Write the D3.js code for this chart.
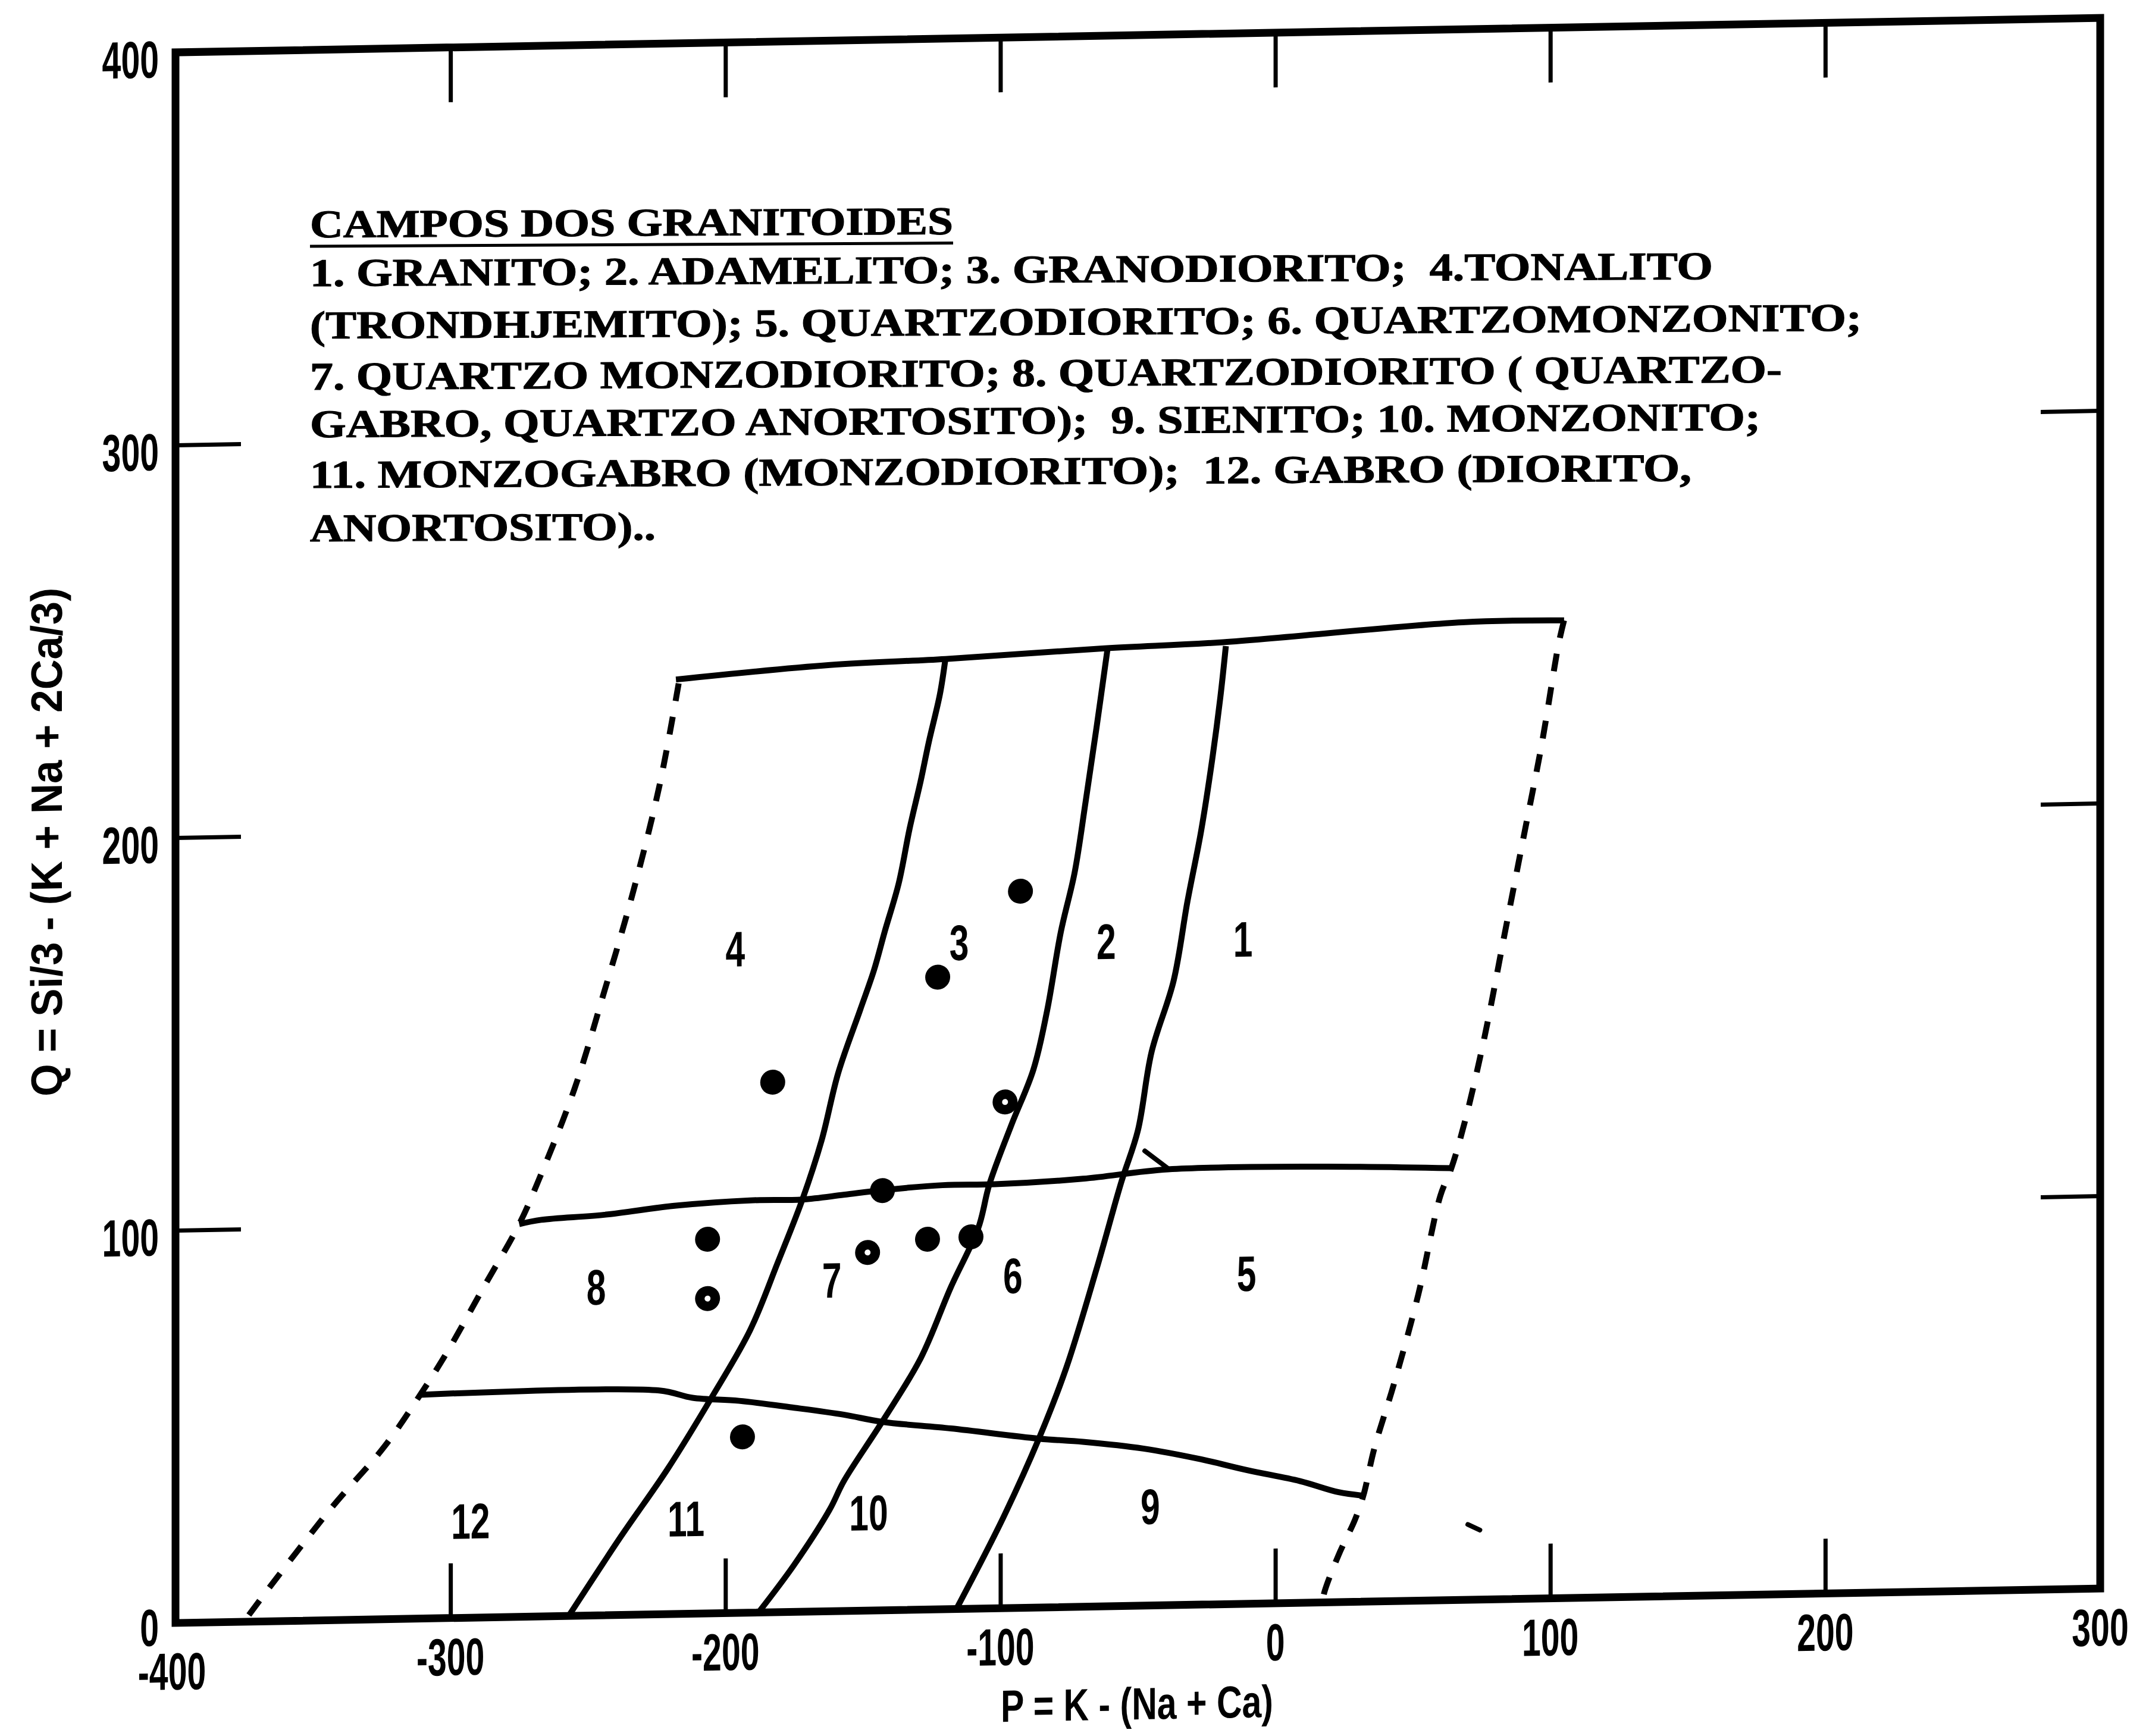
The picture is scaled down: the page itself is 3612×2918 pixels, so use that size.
<!DOCTYPE html>
<html>
<head>
<meta charset="utf-8">
<script src="https://cdn.jsdelivr.net/npm/d3@7"></script>
<style>
  html, body { margin: 0; padding: 0; background: #fff; }
  svg { display: block; }
</style>
</head>
<body>
<svg id="chart" width="3612" height="2918"></svg>
<script>
// ---------- data ----------
// inner tick marks
const xTicks = [-300, -200, -100, 0, 100, 200];
const yTicks = [100, 200, 300];
// tick labels
const xTickValues = [-400, -300, -200, -100, 0, 100, 200, 300];
const xTickLabels = ["-400", "-300", "-200", "-100", "0", "100", "200", "300"];
const yTickValues = [0, 100, 200, 300, 400];
const yTickLabels = ["0", "100", "200", "300", "400"];

// field boundaries, as [P, Q] pairs
const topBoundary = [[-218, 238], [-162, 241], [-120, 242], [-62, 244], [-19, 245], [68, 249], [105, 249]];
const leftBoundary = [[-217, 237], [-224, 211], [-234, 183], [-244, 159], [-255, 134], [-268, 111], [-275, 100],
  [-288, 84], [-301, 68], [-311, 57], [-324, 44], [-344, 28], [-373, 2], [-375, 0]];
const rightBoundary = [[105, 249], [103, 243], [97, 218], [90, 193], [83, 168], [76, 143], [69, 122], [64, 110],
  [60, 103], [52, 78], [43, 55], [36, 39], [32, 27], [29, 21], [23, 12], [18, 3], [17, 0]];
const upperDivide = [[-275, 100], [-267, 101], [-244, 102], [-218, 104], [-191, 105], [-172, 105], [-157, 106],
  [-143, 107], [-121, 108], [-102, 108], [-70, 109], [-39, 111], [16, 111], [64, 110]];
const lowerDivide = [[-311, 57], [-224, 57], [-212, 55], [-195, 54], [-175, 52], [-157, 50], [-143, 48],
  [-118, 46], [-86, 43], [-70, 42], [-48, 40], [-27, 37], [-10, 34], [9, 31], [23, 28], [32, 27]];
const curveA = [[-257, 0], [-238, 20], [-221, 37], [-205, 55], [-191, 72], [-181, 89], [-172, 105], [-165, 120],
  [-159, 137], [-151, 153], [-146, 163], [-142, 173], [-137, 185], [-133, 199], [-129, 211], [-126, 221], [-122, 233], [-120, 242]];
const curveB = [[-188, 0], [-175, 12], [-162, 26], [-157, 33], [-143, 48], [-129, 64], [-118, 82], [-108, 97],
  [-104, 108], [-96, 123], [-88, 137], [-83, 152], [-78, 172], [-73, 187], [-69, 205], [-65, 224], [-61, 244]];
const curveC = [[-116, 0], [-99, 23], [-86, 43], [-76, 61], [-65, 86], [-56, 108], [-50, 121], [-45, 141],
  [-37, 159], [-32, 179], [-27, 197], [-23, 215], [-20, 231], [-18, 244]];
// small pen strokes
const penStrokes = [[[-47.5, 115.8], [-38.8, 111.1]], [[70, 19.2], [74.4, 17.7]]];

// samples
const sampleP = [-182.8, -92.7, -122.8, -98.3, -142.9, -148.3, -126.5, -110.7, -206.5, -206.5, -193.8];
const sampleQ = [135.0, 182.5, 161.0, 128.9, 106.9, 91.2, 94.3, 94.7, 95.3, 80.2, 44.8];
const sampleCentred = [false, false, false, true, false, true, false, false, false, true, false];

// field numbers
const fieldNames = ["1", "2", "3", "4", "5", "6", "7", "8", "9", "10", "11", "12"];
const fieldP = [-11.8, -61.5, -115, -196.4, -10.5, -95.5, -161.3, -247, -45.5, -147.9, -214.3, -292.7];
const fieldQ = [169.4, 169.4, 169.8, 169.2, 84.2, 84.7, 84.4, 83.7, 25.3, 25.0, 24.3, 24.7];

// legend
const legendTitle = "CAMPOS DOS GRANITOIDES";
const legendLines = [
  "1. GRANITO; 2. ADAMELITO; 3. GRANODIORITO;  4.TONALITO",
  "(TRONDHJEMITO); 5. QUARTZODIORITO; 6. QUARTZOMONZONITO;",
  "7. QUARTZO MONZODIORITO; 8. QUARTZODIORITO ( QUARTZO-",
  "GABRO, QUARTZO ANORTOSITO);  9. SIENITO; 10. MONZONITO;",
  "11. MONZOGABRO (MONZODIORITO);  12. GABRO (DIORITO,",
  "ANORTOSITO).."
];

const xTitle = "P = K - (Na + Ca)";
const yTitle = "Q = Si/3 - (K + Na + 2Ca/3)";

// ---------- layout ----------
const W = 3612, H = 2918;
const sansNarrow = "'Liberation Sans', Arial, sans-serif";
const serif = "'Liberation Serif', 'Times New Roman', serif";
const legendX = 521;
const legendTitleBase = 403;
const legendBases = [485, 573, 659, 739, 824, 914];
const legendTitleWidth = 1081;
const legendWidths = [2358, 2608, 2474, 2438, 2322, 581];

const svg = d3.select("#chart");
svg.append("rect").attr("width", W).attr("height", H).attr("fill", "#fff");

const x = d3.scaleLinear().domain([-400, 300]).range([295, 3530]);
const y = d3.scaleLinear().domain([0, 400]).range([2728, 88]);

// the whole sheet leans slightly upward to the right
const deg = r => r * 180 / Math.PI;
const lean = -deg(Math.atan(0.0179));
const plot = svg.append("g")
  .attr("transform", `translate(${x(-400)},${y(0)}) skewY(${lean}) translate(${-x(-400)},${-y(0)})`);

// frame
plot.append("rect")
  .attr("x", x(-400)).attr("y", y(400))
  .attr("width", x(300) - x(-400)).attr("height", y(0) - y(400))
  .attr("fill", "none").attr("stroke", "#000").attr("stroke-width", 13);

// inner ticks on all four sides
function styleAxis(g) {
  g.select(".domain").remove();
  g.selectAll("line").attr("stroke", "#000").attr("stroke-width", 7);
}
plot.append("g").attr("transform", `translate(0,${y(0)})`)
  .call(d3.axisBottom(x).tickValues(xTicks).tickSize(-92).tickSizeOuter(0).tickFormat(""))
  .call(styleAxis);
plot.append("g").attr("transform", `translate(0,${y(400)})`)
  .call(d3.axisTop(x).tickValues(xTicks).tickSize(-92).tickSizeOuter(0).tickFormat(""))
  .call(styleAxis);
plot.append("g").attr("transform", `translate(${x(-400)},0)`)
  .call(d3.axisLeft(y).tickValues(yTicks).tickSize(-110).tickSizeOuter(0).tickFormat(""))
  .call(styleAxis);
plot.append("g").attr("transform", `translate(${x(300)},0)`)
  .call(d3.axisRight(y).tickValues(yTicks).tickSize(-100).tickSizeOuter(0).tickFormat(""))
  .call(styleAxis);

// tick labels (condensed); the corner label -400 sits a little lower, clear of the 0
plot.append("g").selectAll("text").data(xTickValues).join("text")
  .attr("transform", d => `translate(${x(d) - (d === -400 ? 6 : 0)},${y(0) + 96 + (d === -400 ? 16 : 0)}) scale(0.65,1)`)
  .attr("text-anchor", "middle")
  .attr("font-family", sansNarrow).attr("font-weight", "bold").attr("font-size", 88)
  .text((d, i) => xTickLabels[i]);
plot.append("g").selectAll("text").data(yTickValues).join("text")
  .attr("transform", d => `translate(${x(-400) - 28},${y(d) + (d === 0 ? 38 : 42)}) scale(0.65,1)`)
  .attr("text-anchor", "end")
  .attr("font-family", sansNarrow).attr("font-weight", "bold").attr("font-size", 88)
  .text((d, i) => yTickLabels[i]);

// axis titles
plot.append("text")
  .attr("x", 1911 - 229).attr("y", 2919)
  .attr("textLength", 458).attr("lengthAdjust", "spacingAndGlyphs")
  .attr("font-family", sansNarrow).attr("font-weight", "bold").attr("font-size", 76)
  .text(xTitle);
plot.append("text")
  .attr("transform", `translate(104,${1412 + 427}) rotate(-90)`)
  .attr("textLength", 855).attr("lengthAdjust", "spacingAndGlyphs")
  .attr("font-family", sansNarrow).attr("font-weight", "bold").attr("font-size", 74)
  .text(yTitle);

// field boundaries
const line = d3.line().x(d => x(d[0])).y(d => y(d[1])).curve(d3.curveCatmullRom.alpha(0.5));
const solid = [topBoundary, upperDivide, lowerDivide, curveA, curveB, curveC];
plot.append("g").selectAll("path").data(solid).join("path")
  .attr("d", line).attr("fill", "none").attr("stroke", "#000")
  .attr("stroke-width", 10).attr("stroke-linejoin", "round");
plot.append("g").selectAll("path").data([leftBoundary, rightBoundary]).join("path")
  .attr("d", line).attr("fill", "none").attr("stroke", "#000")
  .attr("stroke-width", 10).attr("stroke-dasharray", "30,27");
plot.append("g").selectAll("path").data(penStrokes).join("path")
  .attr("d", d3.line().x(d => x(d[0])).y(d => y(d[1])))
  .attr("fill", "none").attr("stroke", "#000").attr("stroke-width", 8).attr("stroke-linecap", "round");

// field numbers
plot.append("g").selectAll("text").data(fieldNames).join("text")
  .attr("transform", (d, i) => `translate(${x(fieldP[i])},${y(fieldQ[i]) + 30}) scale(0.7,1)`)
  .attr("text-anchor", "middle")
  .attr("font-family", sansNarrow).attr("font-weight", "bold").attr("font-size", 84)
  .text(d => d);

// samples
const samples = sampleP.map((p, i) => ({ p, q: sampleQ[i], c: sampleCentred[i] }));
const sg = plot.append("g");
sg.selectAll("circle.s").data(samples).join("circle").attr("class", "s")
  .attr("cx", d => x(d.p)).attr("cy", d => y(d.q)).attr("r", 21).attr("fill", "#000");
sg.selectAll("circle.c").data(samples.filter(d => d.c)).join("circle").attr("class", "c")
  .attr("cx", d => x(d.p)).attr("cy", d => y(d.q)).attr("r", 5).attr("fill", "#fff");

// legend block: its lines run flatter than the frame
const legendTilt = deg(Math.atan(0.0129));
const legend = plot.append("g")
  .attr("transform", `translate(${legendX},600) skewY(${legendTilt}) translate(${-legendX},-600)`);
legend.append("text")
  .attr("x", legendX).attr("y", legendTitleBase)
  .attr("textLength", legendTitleWidth).attr("lengthAdjust", "spacingAndGlyphs")
  .attr("font-family", serif).attr("font-weight", "bold").attr("font-size", 66)
  .attr("stroke", "#000").attr("stroke-width", 1.2)
  .text(legendTitle);
legend.append("line")
  .attr("x1", legendX).attr("x2", legendX + legendTitleWidth)
  .attr("y1", legendTitleBase + 15).attr("y2", legendTitleBase + 15)
  .attr("stroke", "#000").attr("stroke-width", 5);
legend.selectAll("text.l").data(legendLines).join("text").attr("class", "l")
  .attr("x", legendX).attr("y", (d, i) => legendBases[i])
  .attr("textLength", (d, i) => legendWidths[i]).attr("lengthAdjust", "spacingAndGlyphs")
  .attr("font-family", serif).attr("font-weight", "bold").attr("font-size", 66)
  .attr("stroke", "#000").attr("stroke-width", 1.2)
  .style("white-space", "pre")
  .text(d => d);
</script>
</body>
</html>
